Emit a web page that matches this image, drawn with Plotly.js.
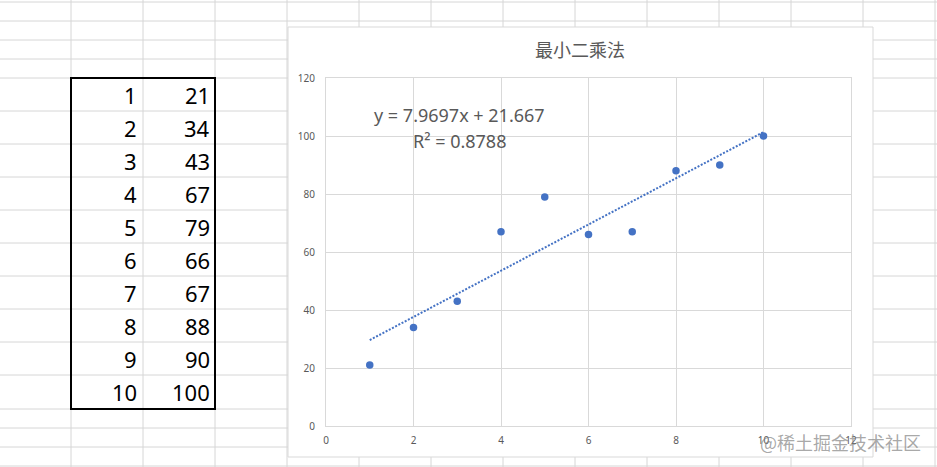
<!DOCTYPE html>
<html><head><meta charset="utf-8">
<script src="https://cdn.plot.ly/plotly-3.0.1.min.js"></script>
<style>html,body{margin:0;padding:0;background:#fff;overflow:hidden}#chart{width:937px;height:467px}</style>
</head><body><div id="chart"></div>
<script>
// ---- data ----
const xs = [1, 2, 3, 4, 5, 6, 7, 8, 9, 10];
const ys = [21, 34, 43, 67, 79, 66, 67, 88, 90, 100];
const chartTitle = '最小二乘法';
const xTickVals = [0, 2, 4, 6, 8, 10, 12];
const yTickVals = [0, 20, 40, 60, 80, 100, 120];
const watermark = '@稀土掘金技术社区';

// ---- least squares fit computed from the data ----
const n = xs.length;
const mx = xs.reduce((a, b) => a + b, 0) / n;
const my = ys.reduce((a, b) => a + b, 0) / n;
let sxy = 0, sxx = 0, syy = 0;
for (let i = 0; i < n; i++) {
  sxy += (xs[i] - mx) * (ys[i] - my);
  sxx += (xs[i] - mx) ** 2;
  syy += (ys[i] - my) ** 2;
}
const slope = sxy / sxx;
const intercept = my - slope * mx;
const r2 = (sxy * sxy) / (sxx * syy);
const xmin = Math.min(...xs), xmax = Math.max(...xs);
const trendX = [xmin, xmax];
const trendY = trendX.map(x => slope * x + intercept);

// ---- page geometry (pixels) ----
const L = 326, R = 851, T = 78, B = 426, W = 937, H = 467;
const px = x => (x - L) / (R - L);
const py = y => (B - y) / (B - T);

const gridColor = '#d6d6d6';
const rowLines = [2, 21, 40, 59, 78, 111, 144, 177, 210, 243, 276, 309, 342, 375, 409, 428, 447, 466];
const colLines = [71, 143, 215, 287, 359, 431, 503, 575, 647, 719, 791, 863, 935];

const shapes = [];
rowLines.forEach(y => shapes.push({type: 'line', xref: 'paper', yref: 'paper', layer: 'below',
  x0: px(0), x1: px(W), y0: py(y), y1: py(y), line: {color: gridColor, width: 1}}));
colLines.forEach(x => shapes.push({type: 'line', xref: 'paper', yref: 'paper', layer: 'below',
  x0: px(x), x1: px(x), y0: py(0), y1: py(H), line: {color: gridColor, width: 1}}));
// chart area
shapes.push({type: 'rect', xref: 'paper', yref: 'paper', layer: 'below',
  x0: px(288), x1: px(873), y0: py(27), y1: py(457), fillcolor: '#ffffff', line: {color: '#d9d9d9', width: 1}});
// table border
shapes.push({type: 'rect', xref: 'paper', yref: 'paper', layer: 'below',
  x0: px(71), x1: px(215), y0: py(78), y1: py(409), line: {color: '#000000', width: 2}});

const annotations = [];
const rowH = (409 - 78) / xs.length;
for (let i = 0; i < xs.length; i++) {
  const yc = py(78 + rowH * (i + 0.5));
  annotations.push({xref: 'paper', yref: 'paper', x: px(139), y: yc, xanchor: 'right', yanchor: 'middle',
    text: String(xs[i]), showarrow: false, font: {family: 'Noto Sans', size: 22, color: '#000'}});
  annotations.push({xref: 'paper', yref: 'paper', x: px(212), y: yc, xanchor: 'right', yanchor: 'middle',
    text: String(ys[i]), showarrow: false, font: {family: 'Noto Sans', size: 22, color: '#000'}});
}
annotations.push({xref: 'paper', yref: 'paper', x: px(459), y: py(115), xanchor: 'center', yanchor: 'middle',
  text: 'y = ' + slope.toFixed(4) + 'x + ' + intercept.toFixed(3), showarrow: false,
  font: {family: 'Noto Sans', size: 18, color: '#595959'}});
annotations.push({xref: 'paper', yref: 'paper', x: px(459), y: py(141), xanchor: 'center', yanchor: 'middle',
  text: 'R² = ' + r2.toFixed(4), showarrow: false,
  font: {family: 'Noto Sans', size: 18, color: '#595959'}});
annotations.push({xref: 'paper', yref: 'paper', x: px(840), y: py(442), xanchor: 'center', yanchor: 'middle',
  text: watermark, showarrow: false,
  font: {family: 'Noto Sans CJK SC', size: 18, color: 'rgba(130,130,130,0.7)'}});

const traces = [
  {type: 'scatter', mode: 'lines', x: trendX, y: trendY, hoverinfo: 'skip',
   line: {color: '#4472C4', width: 2, dash: '2px,1.6px'}},
  {type: 'scatter', mode: 'markers', x: xs, y: ys,
   marker: {color: '#4472C4', size: 7.5}}
];

const axisFont = {family: 'Noto Sans', size: 10, color: '#595959'};
const layout = {
  width: W, height: H,
  margin: {l: L, r: W - R, t: T, b: H - B, pad: 0},
  paper_bgcolor: '#ffffff', plot_bgcolor: 'rgba(0,0,0,0)',
  showlegend: false,
  title: {text: chartTitle, xref: 'paper', x: px(580), xanchor: 'center',
    yref: 'container', y: 1 - 51 / H, yanchor: 'middle',
    font: {family: 'Noto Sans CJK SC', size: 18, color: '#595959'}},
  xaxis: {range: [0, 12], tickmode: 'array', tickvals: xTickVals, showgrid: true, gridcolor: '#d9d9d9',
    zeroline: false, showline: true, mirror: true, linecolor: '#d9d9d9', linewidth: 1,
    ticks: 'outside', ticklen: 5, tickcolor: 'rgba(0,0,0,0)', tickfont: axisFont},
  yaxis: {range: [0, 120], tickmode: 'array', tickvals: yTickVals, showgrid: true, gridcolor: '#d9d9d9',
    zeroline: false, showline: true, mirror: true, linecolor: '#d9d9d9', linewidth: 1,
    ticks: 'outside', ticklen: 8, tickcolor: 'rgba(0,0,0,0)', tickfont: axisFont},
  shapes: shapes,
  annotations: annotations
};

Plotly.newPlot('chart', traces, layout, {displayModeBar: false, staticPlot: true});
</script>
</body></html>
